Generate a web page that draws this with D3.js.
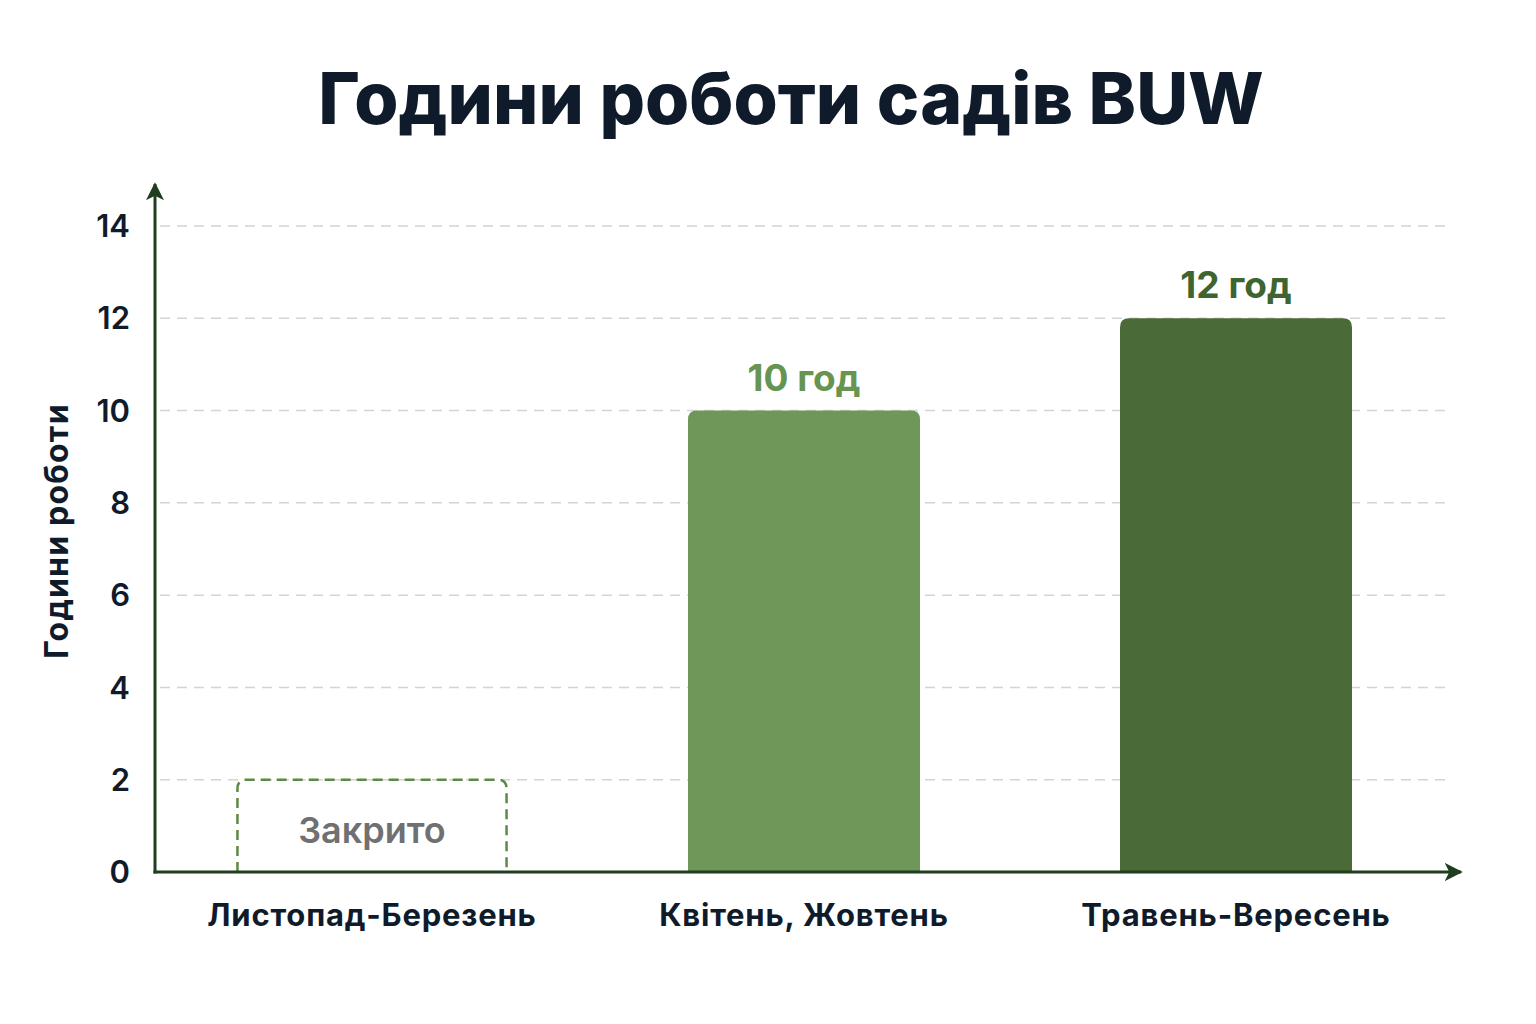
<!DOCTYPE html>
<html>
<head>
<meta charset="utf-8">
<script src="https://cdn.jsdelivr.net/npm/d3@7"></script>
<style>
  html, body { margin: 0; padding: 0; background: #ffffff; }
  svg { display: block; }
  text { font-family: Inter, "Noto Sans", sans-serif; }
</style>
</head>
<body>
<svg id="chart" width="1536" height="1024"></svg>
<script>
// ---- data ----
const categories = ["Листопад-Березень", "Квітень, Жовтень", "Травень-Вересень"];
const hours = [0, 10, 12];
const valueLabels = ["Закрито", "10 год", "12 год"];
const closedPlaceholder = 2;
const yTicks = [0, 2, 4, 6, 8, 10, 12, 14];
const barColors = ["none", "#6e9759", "#4a6a37"];
const labelColors = ["#707070", "#679450", "#3e6530"];

const svg = d3.select("#chart");
const axisColor = "#1f3d1f";

const x = d3.scaleBand()
  .domain(categories)
  .range([156, 1452])
  .paddingInner(0.463)
  .paddingOuter(0.2315);

const y = d3.scaleLinear().domain([0, 14]).range([872, 226]);

// title
svg.append("text")
  .attr("x", 791).attr("y", 124)
  .attr("text-anchor", "middle")
  .attr("font-size", 71.5).attr("font-weight", 800)
  .attr("fill", "#0f1b2b")
  .text("Години роботи садів BUW");

// gridlines
svg.append("g").selectAll("line")
  .data(yTicks.filter(d => d > 0))
  .join("line")
  .attr("x1", 160).attr("x2", 1452)
  .attr("y1", d => y(d)).attr("y2", d => y(d))
  .attr("stroke", "#d4d4d4").attr("stroke-width", 1.5)
  .attr("stroke-dasharray", "10,7");

// y tick labels
svg.append("g").selectAll("text")
  .data(yTicks)
  .join("text")
  .attr("x", 130).attr("y", d => y(d))
  .attr("dy", "0.36em")
  .attr("text-anchor", "end")
  .attr("font-size", 31).attr("font-weight", 600)
  .attr("fill", "#0f1b2b")
  .text(d => d);

// y axis title
svg.append("text")
  .attr("transform", "translate(68,531) rotate(-90)")
  .attr("text-anchor", "middle")
  .attr("font-size", 32).attr("font-weight", 700)
  .attr("letter-spacing", 1.2)
  .attr("fill", "#0f1b2b")
  .text("Години роботи");

function topRoundedRect(x0, y0, w, h, r) {
  return `M${x0},${y0 + h} L${x0},${y0 + r} Q${x0},${y0} ${x0 + r},${y0} L${x0 + w - r},${y0} Q${x0 + w},${y0} ${x0 + w},${y0 + r} L${x0 + w},${y0 + h}`;
}

const bw = x.bandwidth();
// bars
categories.forEach((c, i) => {
  const cx = x(c) + bw / 2;
  if (hours[i] === 0) {
    const w = bw * 1.16;
    const top = y(closedPlaceholder);
    svg.append("path")
      .attr("d", topRoundedRect(cx - w / 2, top, w, y(0) - top, 9))
      .attr("fill", "none")
      .attr("stroke", "#5b8a45").attr("stroke-width", 2.5)
      .attr("stroke-dasharray", "10,6");
    svg.append("text")
      .attr("x", cx).attr("y", (top + y(0)) / 2 + 4)
      .attr("dy", "0.36em")
      .attr("text-anchor", "middle")
      .attr("font-size", 36).attr("font-weight", 600)
      .attr("fill", labelColors[i])
      .text(valueLabels[i]);
  } else {
    const top = y(hours[i]);
    svg.append("path")
      .attr("d", topRoundedRect(x(c), top, bw, y(0) - top, 9) + " Z")
      .attr("fill", barColors[i]);
    svg.append("text")
      .attr("x", cx).attr("y", top - 20)
      .attr("text-anchor", "middle")
      .attr("font-size", 37).attr("font-weight", 700)
      .attr("fill", labelColors[i])
      .text(valueLabels[i]);
  }
  svg.append("text")
    .attr("x", cx).attr("y", 926)
    .attr("text-anchor", "middle")
    .attr("font-size", 31).attr("font-weight", 700)
    .attr("letter-spacing", 0.8)
    .attr("fill", "#0f1b2b")
    .text(c);
});

// axes with arrows
const defs = svg.append("defs");
defs.append("marker")
  .attr("id", "arrow")
  .attr("viewBox", "0 0 10 10")
  .attr("refX", 9).attr("refY", 5)
  .attr("markerWidth", 6).attr("markerHeight", 6)
  .attr("markerUnits", "strokeWidth")
  .attr("orient", "auto")
  .append("path")
  .attr("d", "M0,0 L10,5 L0,10 L2.5,5 Z")
  .attr("fill", axisColor);

svg.append("line")
  .attr("x1", 155).attr("y1", y(0) + 1.5)
  .attr("x2", 155).attr("y2", 184)
  .attr("stroke", axisColor).attr("stroke-width", 3)
  .attr("marker-end", "url(#arrow)");
svg.append("line")
  .attr("x1", 153.5).attr("y1", y(0))
  .attr("x2", 1461).attr("y2", y(0))
  .attr("stroke", axisColor).attr("stroke-width", 3)
  .attr("marker-end", "url(#arrow)");
</script>
</body>
</html>
